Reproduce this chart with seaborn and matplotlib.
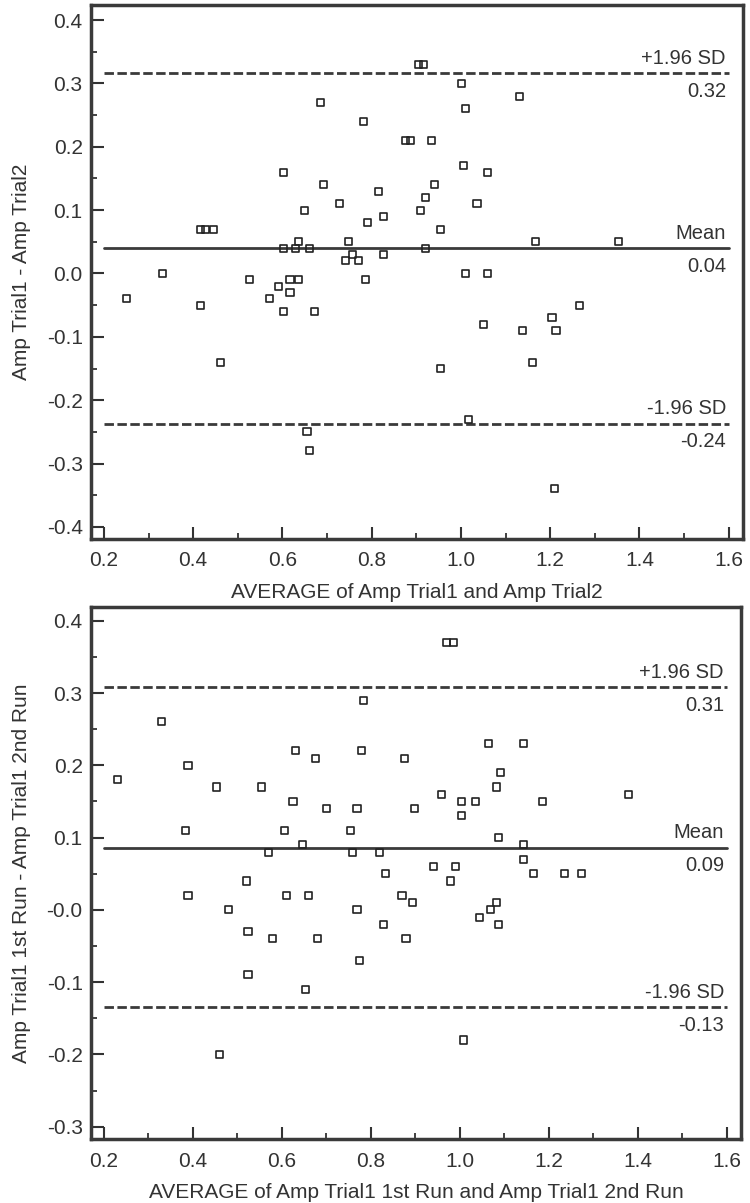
import matplotlib
matplotlib.use('Agg')
import matplotlib.pyplot as plt
import numpy as np
import pandas as pd
import seaborn as sns
from matplotlib.ticker import MultipleLocator

# Panel 1: Amp Trial1 vs Amp Trial2
avg1 = [0.251, 0.332, 0.416, 0.417, 0.428, 0.446, 0.461, 0.527, 0.571, 0.591,
        0.602, 0.602, 0.602, 0.617, 0.617, 0.630, 0.635, 0.635, 0.650, 0.655,
        0.660, 0.661, 0.671, 0.685, 0.691, 0.727, 0.741, 0.747, 0.756, 0.771,
        0.781, 0.786, 0.791, 0.816, 0.826, 0.826, 0.876, 0.887, 0.905, 0.910,
        0.916, 0.920, 0.920, 0.935, 0.940, 0.955, 0.955, 1.001, 1.005, 1.011,
        1.011, 1.016, 1.036, 1.051, 1.060, 1.060, 1.131, 1.137, 1.161, 1.166,
        1.204, 1.210, 1.213, 1.265, 1.354]
diff1 = [-0.04, 0.00, -0.05, 0.07, 0.07, 0.07, -0.14, -0.01, -0.04, -0.02,
         0.16, 0.04, -0.06, -0.01, -0.03, 0.04, 0.05, -0.01, 0.10, -0.25,
         0.04, -0.28, -0.06, 0.27, 0.14, 0.11, 0.02, 0.05, 0.03, 0.02,
         0.24, -0.01, 0.08, 0.13, 0.09, 0.03, 0.21, 0.21, 0.33, 0.10,
         0.33, 0.12, 0.04, 0.21, 0.14, 0.07, -0.15, 0.30, 0.17, 0.26,
         0.00, -0.23, 0.11, -0.08, 0.16, 0.00, 0.28, -0.09, -0.14, 0.05,
         -0.07, -0.34, -0.09, -0.05, 0.05]
lines1 = [0.316, 0.0398, -0.237]
labels1 = [('+1.96 SD', '0.32'), ('Mean', '0.04'), ('-1.96 SD', '-0.24')]
yticks1 = [0.4, 0.3, 0.2, 0.1, 0.0, -0.1, -0.2, -0.3, -0.4]
yticklabels1 = ['0.4', '0.3', '0.2', '0.1', '0.0', '-0.1', '-0.2', '-0.3', '-0.4']

# Panel 2: Amp Trial1 1st Run vs 2nd Run
avg2 = [0.230, 0.330, 0.384, 0.389, 0.389, 0.454, 0.459, 0.480, 0.520, 0.524,
        0.524, 0.554, 0.570, 0.580, 0.605, 0.610, 0.625, 0.630, 0.646, 0.654,
        0.660, 0.675, 0.680, 0.700, 0.754, 0.759, 0.769, 0.769, 0.774, 0.779,
        0.784, 0.819, 0.828, 0.834, 0.870, 0.875, 0.879, 0.894, 0.898, 0.940,
        0.958, 0.971, 0.980, 0.986, 0.990, 1.003, 1.003, 1.009, 1.036, 1.044,
        1.065, 1.069, 1.082, 1.082, 1.087, 1.087, 1.092, 1.144, 1.144, 1.144,
        1.165, 1.185, 1.235, 1.273, 1.379]
diff2 = [0.18, 0.26, 0.11, 0.20, 0.02, 0.17, -0.20, 0.00, 0.04, -0.03,
         -0.09, 0.17, 0.08, -0.04, 0.11, 0.02, 0.15, 0.22, 0.09, -0.11,
         0.02, 0.21, -0.04, 0.14, 0.11, 0.08, 0.14, 0.00, -0.07, 0.22,
         0.29, 0.08, -0.02, 0.05, 0.02, 0.21, -0.04, 0.01, 0.14, 0.06,
         0.16, 0.37, 0.04, 0.37, 0.06, 0.15, 0.13, -0.18, 0.15, -0.01,
         0.23, 0.00, 0.17, 0.01, 0.10, -0.02, 0.19, 0.23, 0.09, 0.07,
         0.05, 0.15, 0.05, 0.05, 0.16]
lines2 = [0.308, 0.0863, -0.135]
labels2 = [('+1.96 SD', '0.31'), ('Mean', '0.09'), ('-1.96 SD', '-0.13')]
yticks2 = [0.4, 0.3, 0.2, 0.1, 0.0, -0.1, -0.2, -0.3]
yticklabels2 = ['0.4', '0.3', '0.2', '0.1', '-0.0', '-0.1', '-0.2', '-0.3']

xticks = [0.2, 0.4, 0.6, 0.8, 1.0, 1.2, 1.4, 1.6]
xticklabels = ['0.2', '0.4', '0.6', '0.8', '1.0', '1.2', '1.4', '1.6']

sns.set_style('ticks')
plt.rcParams['font.family'] = ['Liberation Sans', 'DejaVu Sans']
ink = '#333333'


def draw_panel(ax, avg, diff, lines, labels, yticks, yticklabels, ylim, xlabel, ylabel):
    df = pd.DataFrame({'avg': avg, 'diff': diff})
    sns.scatterplot(data=df, x='avg', y='diff', ax=ax, marker='s', s=26,
                    facecolor='none', edgecolor='#222222', linewidth=1.2, zorder=3)
    x0, x1 = 0.2, 1.6
    styles = ['--', '-', '--']
    for yv, st, (top, bot) in zip(lines, styles, labels):
        ax.plot([x0, x1], [yv, yv], color='#3a3a3a', lw=2.0,
                linestyle=st, dashes=(3.4, 1.25) if st == '--' else (None, None), zorder=2)
        ax.annotate(top, (x1, yv), xytext=(-2, 4), textcoords='offset points',
                    ha='right', va='bottom', fontsize=14.5, color=ink)
        ax.annotate(bot, (x1, yv), xytext=(-2, -6), textcoords='offset points',
                    ha='right', va='top', fontsize=14.5, color=ink)
    ax.set_xlim(0.171, 1.632)
    ax.set_ylim(*ylim)
    ax.set_xticks(xticks)
    ax.set_xticklabels(xticklabels)
    ax.set_yticks(yticks)
    ax.set_yticklabels(yticklabels)
    ax.xaxis.set_minor_locator(MultipleLocator(0.1))
    ax.yaxis.set_minor_locator(MultipleLocator(0.05))
    ax.tick_params(which='major', direction='in', length=9, width=1.5, color=ink,
                   labelsize=15, labelcolor=ink, pad=6)
    ax.tick_params(which='minor', direction='in', length=4.5, width=1.3, color=ink)
    ax.tick_params(axis='x', pad=9)
    for sp in ax.spines.values():
        sp.set_visible(True)
        sp.set_linewidth(2.5)
        sp.set_color('#3a3a3a')
    ax.set_xlabel(xlabel, fontsize=15, color=ink, labelpad=9)
    ax.set_ylabel(ylabel, fontsize=15, color=ink, labelpad=11)


fig = plt.figure(figsize=(7.5, 12.03), dpi=100)
ax1 = fig.add_axes([0.1213, 0.552, 0.8694, 0.4440])
ax2 = fig.add_axes([0.1213, 0.0532, 0.8667, 0.4422])

draw_panel(ax1, avg1, diff1, lines1, labels1, yticks1, yticklabels1, (-0.419, 0.424),
           'AVERAGE of Amp Trial1 and Amp Trial2', 'Amp Trial1 - Amp Trial2')
draw_panel(ax2, avg2, diff2, lines2, labels2, yticks2, yticklabels2, (-0.317, 0.419),
           'AVERAGE of Amp Trial1 1st Run and Amp Trial1 2nd Run',
           'Amp Trial1 1st Run - Amp Trial1 2nd Run')

fig.savefig('out.png', dpi=100)
